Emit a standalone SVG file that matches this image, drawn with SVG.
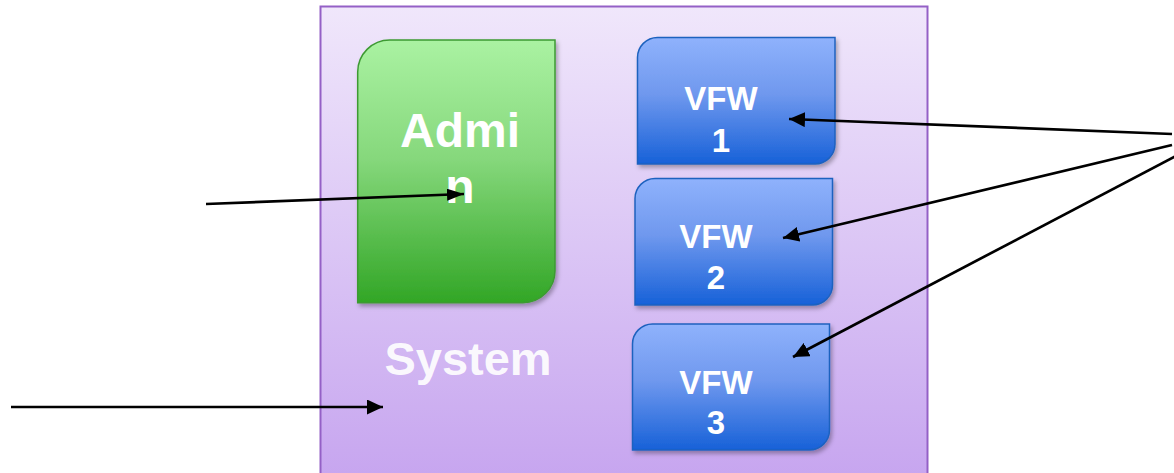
<svg xmlns="http://www.w3.org/2000/svg" width="1174" height="473" viewBox="0 0 1174 473">
  <defs>
    <linearGradient id="gSys" x1="0" y1="0" x2="0" y2="1">
      <stop offset="0" stop-color="#f0e7fb"/>
      <stop offset="1" stop-color="#c6a4ef"/>
    </linearGradient>
    <linearGradient id="gAdmin" x1="0" y1="0" x2="0" y2="1">
      <stop offset="0" stop-color="#aaf2a2"/>
      <stop offset="0.45" stop-color="#86d87c"/>
      <stop offset="1" stop-color="#32a626"/>
    </linearGradient>
    <linearGradient id="gVfw" x1="0" y1="0" x2="0" y2="1">
      <stop offset="0" stop-color="#8fb2fc"/>
      <stop offset="0.45" stop-color="#6f98ee"/>
      <stop offset="1" stop-color="#1761d8"/>
    </linearGradient>
    <filter id="shadow" x="-10%" y="-10%" width="125%" height="125%">
      <feDropShadow dx="2" dy="3" stdDeviation="2" flood-color="#000" flood-opacity="0.3"/>
    </filter>
    <marker id="arrow" markerUnits="userSpaceOnUse" markerWidth="17" markerHeight="15" refX="16" refY="7.5" orient="auto">
      <path d="M0,0 L16,7.5 L0,15 z" fill="#000"/>
    </marker>
    <marker id="arrowSm" markerUnits="userSpaceOnUse" markerWidth="18" markerHeight="12" refX="17" refY="6" orient="auto">
      <path d="M0,0 L17,6 L0,12 z" fill="#000"/>
    </marker>
    <style>
      .lbl { font-family: "Liberation Sans", Arial, sans-serif; font-weight: bold; fill: #ffffff; text-anchor: middle; }
      .conn { fill: none; stroke: #000; stroke-width: 2.7; }
    </style>
  </defs>

  <rect width="1174" height="473" fill="#ffffff"/>

  <!-- outer system container -->
  <g id="system">
    <rect x="320.5" y="6.5" width="607" height="480" fill="url(#gSys)" stroke="#9460c6" stroke-width="2"/>
    <text class="lbl" x="468" y="375" font-size="47" fill-opacity="0.92">System</text>
  </g>

  <g id="admin">
    <path d="M357.7,302.7 V72 A32,32 0 0 1 389.7,40 H555 V270.7 A32,32 0 0 1 523,302.7 Z" fill="url(#gAdmin)" stroke="#3d9a33" stroke-width="1.5" filter="url(#shadow)"/>
    <text class="lbl" font-size="48"><tspan x="460" y="147">Admi</tspan><tspan x="460" y="203">n</tspan></text>
  </g>

  <g id="vfw1">
    <path d="M637.5,164 V57.5 A20,20 0 0 1 657.5,37.5 H835 V144 A20,20 0 0 1 815,164 Z" fill="url(#gVfw)" stroke="#1f62bf" stroke-width="1.5" filter="url(#shadow)"/>
    <text class="lbl" font-size="33"><tspan x="721" y="110">VFW</tspan><tspan x="721" y="152">1</tspan></text>
  </g>

  <g id="vfw2">
    <path d="M635,305 V198.5 A20,20 0 0 1 655,178.5 H832.5 V285 A20,20 0 0 1 812.5,305 Z" fill="url(#gVfw)" stroke="#1f62bf" stroke-width="1.5" filter="url(#shadow)"/>
    <text class="lbl" font-size="33"><tspan x="716" y="248">VFW</tspan><tspan x="716" y="289">2</tspan></text>
  </g>

  <g id="vfw3">
    <path d="M632.5,450 V344 A20,20 0 0 1 652.5,324 H829.5 V430 A20,20 0 0 1 809.5,450 Z" fill="url(#gVfw)" stroke="#1f62bf" stroke-width="1.5" filter="url(#shadow)"/>
    <text class="lbl" font-size="33"><tspan x="716" y="394">VFW</tspan><tspan x="716" y="434">3</tspan></text>
  </g>

  <!-- connectors -->
  <g id="connectors">
    <line class="conn" x1="206" y1="204" x2="464" y2="194" marker-end="url(#arrowSm)"/>
    <line class="conn" x1="11" y1="407" x2="383" y2="407" marker-end="url(#arrow)"/>
    <line class="conn" x1="1172" y1="134" x2="789" y2="119" marker-end="url(#arrow)"/>
    <line class="conn" x1="1172" y1="145" x2="783" y2="238" marker-end="url(#arrow)"/>
    <line class="conn" x1="1176" y1="156" x2="793" y2="357" marker-end="url(#arrow)"/>
  </g>
</svg>
